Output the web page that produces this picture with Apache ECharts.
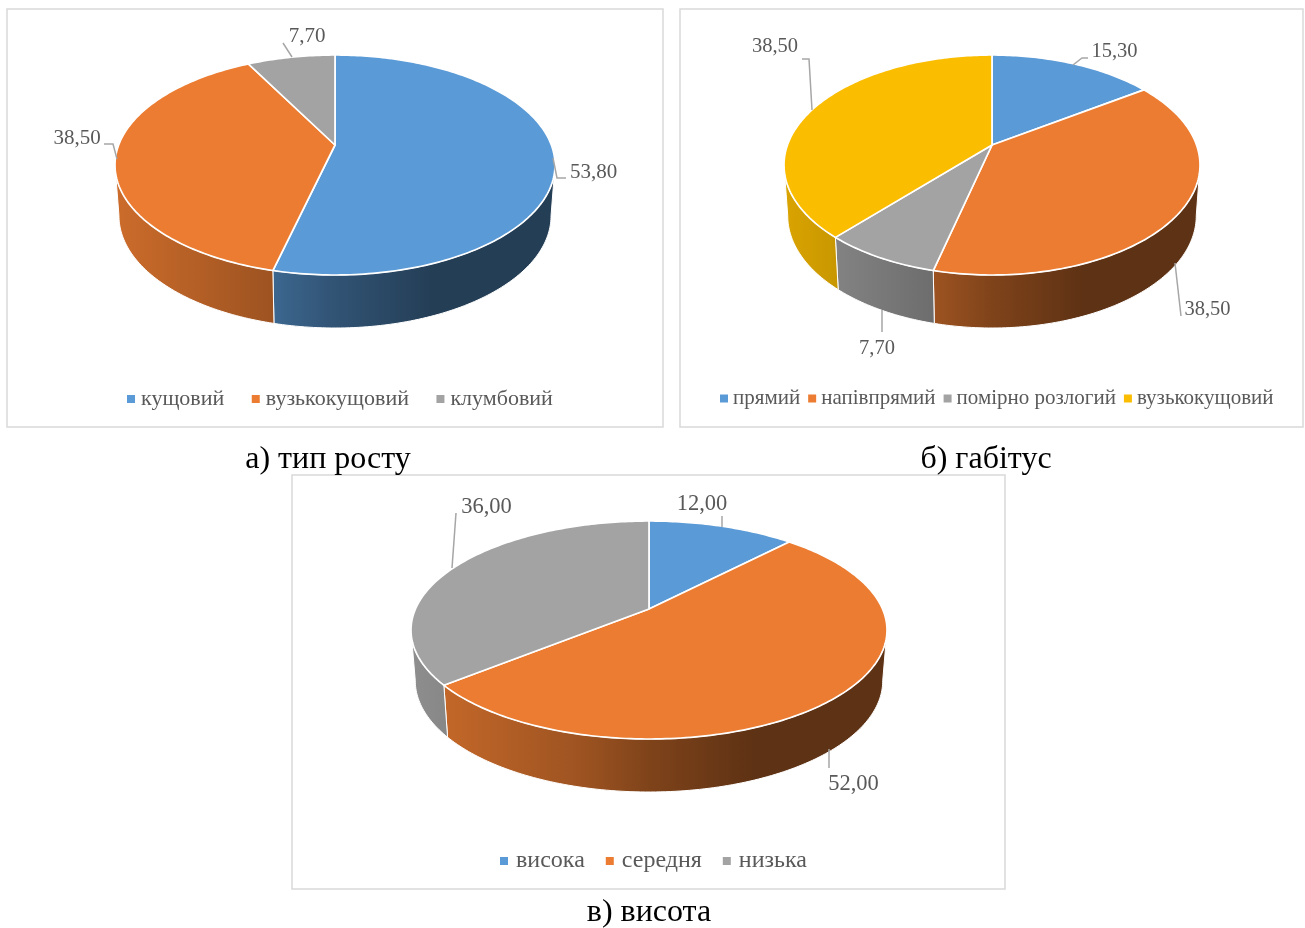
<!DOCTYPE html>
<html>
<head>
<meta charset="utf-8">
<style>html,body{margin:0;padding:0;background:#fff}#c{width:1305px;height:928px}</style>
<script src="https://cdn.jsdelivr.net/npm/echarts@6/dist/echarts.min.js"></script>
</head>
<body>
<div id="c"></div>
<script>
// ---- data ----
const growthCategories = ['кущовий', 'вузькокущовий', 'клумбовий'];
const growthValues = [53.8, 38.5, 7.7];
const habitCategories = ['прямий', 'напівпрямий', 'помірно розлогий', 'вузькокущовий'];
const habitValues = [15.3, 38.5, 7.7, 38.5];
const heightCategories = ['висока', 'середня', 'низька'];
const heightValues = [12, 52, 36];
const captions = ['а) тип росту', 'б) габітус', 'в) висота'];

// ---- styling ----
const palette = ['#5a9ad6', '#eb7c31', '#a3a3a3', '#fbbd00'];
const serif = '"Liberation Serif", "Times New Roman", serif';
const textGrey = '#595959';
const leaderGrey = '#a6a6a6';
const shadeStops = [[0, 0.87], [0.36, 0.67], [0.5, 0.54], [0.72, 0.40], [1, 0.40]];

// pie geometry and label placement, one per panel
const panels = [
  { box: [7, 9, 656, 418], cx: 335, apex: 145, top: 55, bottom: 275, half: 220, base: 328, font: 21,
    legendFont: 22, legendPad: 1, legendLeft: 127, legendTop: 388, legendGap: 27.5, caption: [328, 460],
    cats: growthCategories, vals: growthValues, cols: [0, 1, 2],
    labels: [
      { at: [593.5, 172], line: [[553, 158], [557, 178], [566, 178]] },
      { at: [77, 138], line: [[104, 144], [113, 144], [117, 159]] },
      { at: [307, 36], line: [[283, 43], [292, 57]] }
    ] },
  { box: [680, 9, 623, 418], cx: 992, apex: 145, top: 55, bottom: 275, half: 208, base: 328, font: 20.5,
    legendFont: 21, legendPad: 0, legendLeft: 720, legendTop: 388, legendGap: 8, caption: [986, 460],
    cats: habitCategories, vals: habitValues, cols: [0, 1, 2, 3],
    labels: [
      { at: [1114.5, 52], line: [[1088, 58], [1082, 58], [1073, 65]] },
      { at: [1207.5, 310], line: [[1175, 263], [1181, 316]] },
      { at: [877, 349], line: [[882, 310], [882, 332]] },
      { at: [775, 47], line: [[802, 59], [809, 59], [812, 110]] }
    ] },
  { box: [292, 475, 713, 414], cx: 649, apex: 609, top: 521, bottom: 739, half: 238, base: 792, font: 22.5,
    legendFont: 24, legendPad: 3, legendLeft: 500, legendTop: 849, legendGap: 21, caption: [649, 913],
    cats: heightCategories, vals: heightValues, cols: [0, 1, 2],
    labels: [
      { at: [702, 504], line: [[722, 516], [722, 527]] },
      { at: [853.5, 784], line: [[829, 749], [829, 768]] },
      { at: [486.5, 507], line: [[456, 513], [452, 568]] }
    ] }
];

function shade(hex, f) {
  const n = parseInt(hex.slice(1), 16);
  const c = [(n >> 16) & 255, (n >> 8) & 255, n & 255].map(function (v) { return Math.round(v * f); });
  return 'rgb(' + c.join(',') + ')';
}

function projector(p) {
  const far = p.apex - p.top, near = p.bottom - p.apex;
  const k = (near - far) / (near + far);
  const S = far * (1 + k);
  const R = p.half * Math.sqrt(1 - k * k);
  const sx = 0.982, sy = 1.02;
  const dy = p.base - p.apex - near * sy;
  return {
    k: k,
    top: function (a) {
      const w = 1 + k * Math.cos(a);
      return [p.cx + R * Math.sin(a) / w, p.apex - S * Math.cos(a) / w];
    },
    low: function (a) {
      const w = 1 + k * Math.cos(a);
      return [p.cx + sx * R * Math.sin(a) / w, p.apex + dy - sy * S * Math.cos(a) / w];
    }
  };
}

function arc(fn, a0, a1) {
  const pts = [], n = Math.max(2, Math.ceil((a1 - a0) / (Math.PI / 180)));
  for (let i = 0; i <= n; i++) pts.push(fn(a0 + (a1 - a0) * i / n));
  return pts;
}

function makeRender(p, sliceIdx, color) {
  return function (params, api) {
    const value = api.value(0), before = api.value(1), total = api.value(2);
    const a0 = before / total * 2 * Math.PI;
    const a1 = (before + value) / total * 2 * Math.PI;
    const proj = projector(p);
    const children = [];
    const edge = Math.acos(-proj.k);
    const w0 = Math.max(a0, edge), w1 = Math.min(a1, 2 * Math.PI - edge);
    if (w1 > w0) {
      const pts = arc(proj.top, w0, w1).concat(arc(proj.low, w0, w1).reverse());
      children.push({
        type: 'polygon', z2: 1, shape: { points: pts },
        style: {
          fill: new echarts.graphic.LinearGradient(p.cx - p.half, 0, p.cx + p.half, 0,
            shadeStops.map(function (s) { return { offset: s[0], color: shade(color, s[1]) }; }), true),
          stroke: '#ffffff', lineWidth: 1
        }
      });
    }
    children.push({
      type: 'polygon', z2: 2, shape: { points: [[p.cx, p.apex]].concat(arc(proj.top, a0, a1)) },
      style: { fill: color, stroke: '#ffffff', lineWidth: 1.7, lineJoin: 'round' }
    });
    const lab = p.labels[sliceIdx];
    children.push({
      type: 'polyline', z2: 3, shape: { points: lab.line },
      style: { fill: 'none', stroke: leaderGrey, lineWidth: 1.5 }
    });
    children.push({
      type: 'text', z2: 4, x: lab.at[0], y: lab.at[1],
      style: {
        text: value.toFixed(2).replace('.', ','), fontFamily: serif, fontSize: p.font,
        fill: textGrey, align: 'center', verticalAlign: 'middle'
      }
    });
    return { type: 'group', children: children };
  };
}

const series = [], legends = [], graphics = [];
panels.forEach(function (p, pi) {
  const total = p.vals.reduce(function (s, v) { return s + v; }, 0);
  let before = 0;
  p.vals.forEach(function (v, i) {
    const color = palette[p.cols[i]];
    series.push({
      type: 'custom', name: p.cats[i], coordinateSystem: 'none', silent: true, animation: false,
      itemStyle: { color: color },
      data: [[v, before, total]],
      renderItem: makeRender(p, i, color)
    });
    before += v;
  });
  legends.push({
    left: p.legendLeft, top: p.legendTop, orient: 'horizontal', selectedMode: false,
    itemWidth: 8, itemHeight: 8, itemGap: p.legendGap, padding: 0,
    textStyle: { fontFamily: serif, fontSize: p.legendFont, color: textGrey, padding: [0, 0, 0, p.legendPad] },
    data: p.cats.map(function (c, i) {
      return { name: c, icon: 'rect', itemStyle: { color: palette[p.cols[i]] } };
    })
  });
  graphics.push({
    type: 'rect', z: -1, silent: true,
    shape: { x: p.box[0], y: p.box[1], width: p.box[2], height: p.box[3] },
    style: { fill: '#ffffff', stroke: '#d9d9d9', lineWidth: 1.5 }
  });
  graphics.push({
    type: 'text', silent: true, x: p.caption[0], y: p.caption[1],
    style: {
      text: captions[pi], fontFamily: serif, fontSize: 32, fill: '#000000',
      align: 'center', verticalAlign: 'middle'
    }
  });
});

const chart = echarts.init(document.getElementById('c'));
chart.setOption({
  backgroundColor: '#ffffff',
  animation: false,
  legend: legends,
  graphic: graphics,
  series: series
});
</script>
</body>
</html>
